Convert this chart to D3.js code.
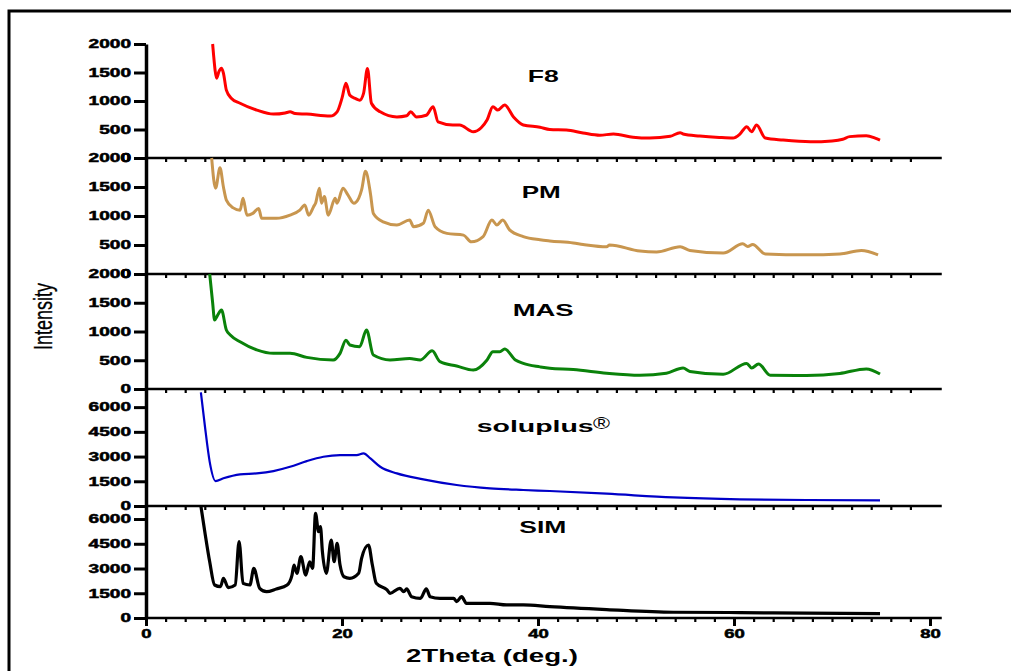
<!DOCTYPE html>
<html>
<head>
<meta charset="utf-8">
<script src="https://cdn.jsdelivr.net/npm/d3@7"></script>
<style>
body { margin: 0; background: #fff; }
text { font-family: "Liberation Sans", Arial, sans-serif; }
</style>
</head>
<body>
<div id="chart"></div>
<script>
// XRD patterns, [2theta, intensity]
var f8 = [[6.8,2000],[6.9,1800],[7.05,1540],[7.2,1400],[7.45,1520],[7.7,1575],[7.9,1490],[8.2,1190],[8.7,1050],[9.6,960],[11.3,840],[13.0,770],[14.2,790],[14.7,810],[15.2,780],[16.4,770],[18.8,735],[19.5,810],[20.0,1050],[20.4,1310],[20.8,1100],[21.4,1040],[21.8,1015],[22.2,1135],[22.6,1570],[23.0,960],[23.9,810],[25.6,720],[26.6,740],[27.0,810],[27.6,720],[28.6,750],[29.3,900],[29.8,635],[31.3,580],[32.0,580],[33.4,460],[34.2,530],[34.8,665],[35.4,900],[35.9,840],[36.6,930],[37.5,720],[38.5,580],[40.2,540],[41.2,500],[42.9,490],[44.6,440],[46.3,400],[47.7,420],[49.7,365],[51.4,350],[53.5,380],[54.5,445],[54.8,420],[56.5,385],[58.5,360],[59.9,350],[60.6,420],[61.3,550],[61.8,460],[62.3,580],[63.2,350],[65.0,315],[67.8,285],[70.0,300],[71.1,330],[71.8,375],[73.5,390],[74.4,350],[74.9,315]];

var pm = [[6.7,2000],[7.1,1480],[7.55,1830],[7.9,1500],[8.2,1275],[8.9,1140],[9.6,1100],[9.9,1305],[10.3,1015],[10.9,1045],[11.5,1130],[11.8,960],[13.3,960],[14.7,1015],[15.7,1100],[16.2,1190],[16.6,1015],[17.1,1160],[17.3,1220],[17.7,1480],[17.9,1220],[18.2,1335],[18.6,1015],[19.3,1305],[19.5,1220],[20.1,1480],[20.6,1365],[21.2,1220],[21.7,1305],[22.0,1450],[22.4,1770],[22.9,1390],[23.2,1045],[24.2,900],[25.6,845],[26.9,930],[27.3,815],[28.3,875],[28.8,1100],[29.5,815],[30.7,700],[32.4,670],[33.2,555],[34.4,645],[35.3,930],[35.8,845],[36.4,930],[37.1,760],[38.5,645],[40.2,590],[41.2,570],[43.6,535],[44.6,510],[47.0,470],[47.3,500],[50.4,395],[52.1,380],[54.5,470],[55.5,405],[58.9,360],[60.9,520],[61.4,475],[61.9,510],[63.2,345],[67.4,330],[70.8,345],[73.0,405],[74.7,330]];

var mas = [[6.5,2000],[6.8,1500],[7.0,1200],[7.3,1280],[7.7,1375],[8.2,1025],[8.6,940],[9.6,820],[11.3,680],[13.0,620],[14.7,620],[16.4,550],[19.1,505],[19.8,620],[20.4,850],[20.8,765],[21.8,735],[22.5,1025],[23.2,590],[24.9,505],[26.9,530],[28.0,505],[29.2,665],[30.0,475],[31.7,400],[33.4,330],[34.8,505],[35.4,650],[36.1,650],[36.6,695],[37.7,505],[38.5,445],[40.2,385],[41.2,360],[43.6,340],[47.0,275],[50.4,240],[53.1,275],[54.8,365],[55.5,305],[58.9,255],[61.3,445],[61.8,365],[62.5,435],[63.7,240],[67.4,235],[70.8,270],[73.5,350],[74.9,260]];

var soluplus = [[5.6,6900],[6.0,4900],[6.5,2680],[7.1,1515],[7.9,1680],[9.6,1920],[11.3,1980],[13.0,2120],[14.7,2380],[16.4,2725],[18.1,2990],[19.8,3090],[21.5,3090],[22.2,3190],[22.9,2885],[23.9,2380],[25.6,1980],[28.3,1620],[31.7,1275],[35.1,1070],[38.5,970],[41.2,910],[47.0,745],[53.8,520],[60.6,405],[67.4,365],[74.9,340]];

var sim = [[5.6,6790],[6.0,5230],[6.5,3410],[7.0,2000],[7.6,1900],[7.9,2405],[8.4,1840],[9.1,2000],[9.5,4630],[9.9,2100],[10.6,2000],[11.0,3010],[11.6,1800],[12.3,1595],[13.3,1760],[14.4,2000],[14.9,2605],[15.1,3210],[15.4,2710],[15.8,3720],[16.3,2605],[16.7,3410],[17.0,3010],[17.3,6345],[17.6,5230],[17.8,5535],[18.0,4020],[18.4,2710],[18.9,4725],[19.2,3410],[19.5,4525],[19.8,3210],[20.2,2500],[20.8,2405],[21.7,2710],[22.0,3620],[22.7,4425],[23.1,3210],[23.5,2100],[24.6,1700],[24.9,1495],[25.9,1800],[26.3,1595],[26.6,1760],[27.1,1290],[28.0,1190],[28.6,1760],[29.0,1290],[30.0,1190],[31.4,1190],[31.7,990],[32.2,1290],[32.7,890],[35.1,890],[36.8,790],[38.5,790],[41.2,685],[47.0,510],[53.8,350],[60.6,330],[67.4,290],[74.9,270]];

var smallTicks = [0, 500, 1000, 1500, 2000];
var bigTicks = [0, 1500, 3000, 4500, 6000];
var xTicks = [0, 20, 40, 60, 80];

var width = 1011, height = 671;

var svg = d3.select("#chart")
    .append("svg")
    .attr("width", width)
    .attr("height", height);

// outer frame (runs off the right / bottom of the picture)
svg.append("rect")
    .attr("x", 9).attr("y", 11)
    .attr("width", 1100).attr("height", 1000)
    .attr("fill", "none")
    .attr("stroke", "#000")
    .attr("stroke-width", 3);

var x = d3.scaleLinear().domain([0, 80]).range([146, 930]);

var panels = [
    {name: "F8", data: f8, color: "#ff0000", top: 44, bottom: 158, max: 2000, ticks: smallTicks, lw: 3, lx: 527.7, ly: 82, tl: 31},
    {name: "PM", data: pm, color: "#c8964f", top: 158, bottom: 274, max: 2000, ticks: smallTicks, lw: 3, lx: 521.7, ly: 198, tl: 39},
    {name: "MAS", data: mas, color: "#0a820a", top: 274, bottom: 389, max: 2000, ticks: smallTicks, lw: 3, lx: 512.7, ly: 316, tl: 61},
    {name: "soluplus", data: soluplus, color: "#0000c8", top: 389, bottom: 506, max: 7100, ticks: bigTicks, lw: 2.2, lx: 476.7, ly: 432, tl: 117},
    {name: "SIM", data: sim, color: "#000000", top: 506, bottom: 618, max: 6790, ticks: bigTicks, lw: 3.2, lx: 519.3, ly: 533, tl: 47}
];

panels.forEach(function(p, i) {
    var y = d3.scaleLinear().domain([0, p.max]).range([p.bottom, p.top]);

    var line = d3.line()
        .curve(d3.curveMonotoneX)
        .x(function(d) { return x(d[0]); })
        .y(function(d) { return y(d[1]); });

    svg.append("path")
        .datum(p.data)
        .attr("fill", "none")
        .attr("stroke", p.color)
        .attr("stroke-width", p.lw)
        .attr("stroke-linejoin", "round")
        .attr("d", line);

    // left axis of this panel
    var ya = svg.append("g")
        .attr("transform", "translate(" + x(0) + ",0)")
        .call(d3.axisLeft(y).tickValues(p.ticks).tickFormat(d3.format("d"))
            .tickSize(12).tickSizeOuter(0).tickPadding(3));
    ya.select(".domain").attr("stroke-width", 3.5);
    ya.selectAll(".tick line").attr("stroke-width", 3);
    ya.selectAll("text")
        .attr("font-size", 12)
        .attr("font-weight", "bold")
        .attr("fill", "#000")
        .attr("stroke", "#000")
        .attr("stroke-width", 0.5)
        .attr("textLength", function(d) { return String(d).length * 10.6; })
        .attr("lengthAdjust", "spacingAndGlyphs");

    // base line of the panel with small ticks
    svg.append("line")
        .attr("x1", x(0)).attr("x2", x(81.2))
        .attr("y1", p.bottom).attr("y2", p.bottom)
        .attr("stroke", "#000")
        .attr("stroke-width", 2.6);

    var minor = svg.append("g")
        .attr("transform", "translate(0," + p.bottom + ")")
        .call(d3.axisBottom(x).tickValues(d3.range(2, 80, 2)).tickSize(4).tickFormat(""));
    minor.select(".domain").remove();
    minor.selectAll(".tick line").attr("stroke-width", 2.2);

    // panel label
    svg.append("text")
        .attr("x", p.lx).attr("y", p.ly)
        .attr("font-size", 17)
        .attr("font-weight", "bold")
        .attr("textLength", p.tl)
        .attr("lengthAdjust", "spacingAndGlyphs")
        .text(p.name);
});

// registered mark after soluplus
svg.append("text")
    .attr("x", 593).attr("y", 429)
    .attr("font-size", 17)
    .attr("textLength", 17)
    .attr("lengthAdjust", "spacingAndGlyphs")
    .text("\u00AE");

// bottom x axis, major ticks and labels
var xa = svg.append("g")
    .attr("transform", "translate(0,618)")
    .call(d3.axisBottom(x).tickValues(xTicks).tickSize(8).tickSizeOuter(0));
xa.select(".domain").remove();
xa.selectAll(".tick line").attr("stroke-width", 3);
xa.selectAll("text")
    .attr("y", 19.5)
    .attr("dy", null)
    .attr("font-size", 12)
    .attr("font-weight", "bold")
    .attr("fill", "#000")
    .attr("stroke", "#000")
    .attr("stroke-width", 0.5)
    .attr("textLength", function(d) { return String(d).length * 10.3; })
    .attr("lengthAdjust", "spacingAndGlyphs");

// axis titles
svg.append("text")
    .attr("x", 406).attr("y", 662)
    .attr("font-size", 18)
    .attr("font-weight", "bold")
    .attr("textLength", 172)
    .attr("lengthAdjust", "spacingAndGlyphs")
    .text("2Theta (deg.)");

svg.append("text")
    .attr("transform", "translate(52,316.5) rotate(-90)")
    .attr("text-anchor", "middle")
    .attr("font-size", 25)
    .attr("stroke", "#000")
    .attr("stroke-width", 0.3)
    .attr("textLength", 67)
    .attr("lengthAdjust", "spacingAndGlyphs")
    .text("Intensity");
</script>
</body>
</html>
